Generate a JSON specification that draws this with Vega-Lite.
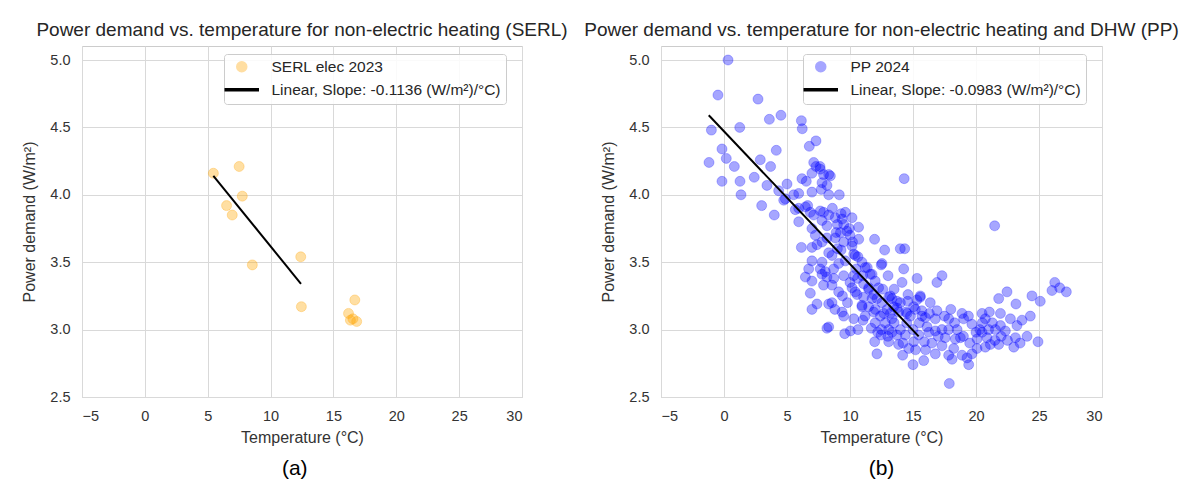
{
  "$schema": "https://vega.github.io/schema/vega-lite/v6.json",
  "background": "white",
  "padding": {"left": 21, "top": 20, "right": 5, "bottom": 5},
  "config": {
    "font": "Liberation Sans",
    "view": {"stroke": "#cccccc", "strokeWidth": 1},
    "axis": {
      "grid": true, "gridColor": "#d9d9d9", "gridWidth": 1, "domain": false, "ticks": false,
      "labelFont": "Liberation Sans", "labelFontSize": 14.5, "labelColor": "#333333",
      "titleFont": "Liberation Sans", "titleFontSize": 16, "titleFontWeight": "normal", "titleColor": "#333333"
    },
    "title": {"font": "Liberation Sans", "fontSize": 19, "fontWeight": "normal", "color": "#262626"},
    "legend": {
      "fillColor": "rgba(255,255,255,0.85)", "strokeColor": "#cccccc", "cornerRadius": 3,
      "padding": 5, "rowPadding": 6, "labelFont": "Liberation Sans", "labelFontSize": 15.5,
      "labelColor": "#262626", "labelOffset": 22, "symbolOffset": 5, "labelLimit": 400, "symbolSize": 100
    }
  },
  "datasets": {
    "serl": [
      {"t": 5.45, "p": 4.16, "s": "SERL elec 2023"}, {"t": 7.5, "p": 4.21, "s": "SERL elec 2023"},
      {"t": 7.75, "p": 3.99, "s": "SERL elec 2023"}, {"t": 6.5, "p": 3.92, "s": "SERL elec 2023"},
      {"t": 6.95, "p": 3.85, "s": "SERL elec 2023"}, {"t": 8.55, "p": 3.48, "s": "SERL elec 2023"},
      {"t": 12.4, "p": 3.54, "s": "SERL elec 2023"}, {"t": 12.45, "p": 3.17, "s": "SERL elec 2023"},
      {"t": 16.7, "p": 3.22, "s": "SERL elec 2023"}, {"t": 16.2, "p": 3.12, "s": "SERL elec 2023"},
      {"t": 16.35, "p": 3.07, "s": "SERL elec 2023"}, {"t": 16.85, "p": 3.06, "s": "SERL elec 2023"},
      {"t": 16.55, "p": 3.08, "s": "SERL elec 2023"}
    ],
    "serlfit": [
      {"t": 5.45, "p": 4.14, "s": "Linear, Slope: -0.1136 (W/m²)/°C)"},
      {"t": 12.42, "p": 3.34, "s": "Linear, Slope: -0.1136 (W/m²)/°C)"}
    ],
    "ppfit": [
      {"t": -1.21, "p": 4.59, "s": "Linear, Slope: -0.0983 (W/m²)/°C)"},
      {"t": 15.45, "p": 2.95, "s": "Linear, Slope: -0.0983 (W/m²)/°C)"}
    ],
    "pp": [
      {"t":0.32,"p":5.0},{"t":-0.48,"p":4.74},{"t":2.7,"p":4.71},{"t":-1.0,"p":4.48},{"t":1.25,"p":4.5},{"t":3.6,"p":4.56},{"t":4.52,"p":4.59},{"t":6.14,"p":4.55},{"t":6.21,"p":4.49},{"t":-0.16,"p":4.34},{"t":0.18,"p":4.27},{"t":-1.19,"p":4.24},{"t":0.82,"p":4.21},{"t":4.15,"p":4.33},{"t":2.88,"p":4.26},{"t":3.7,"p":4.21},{"t":6.77,"p":4.36},{"t":7.3,"p":4.4},{"t":-0.16,"p":4.1},{"t":1.27,"p":4.1},{"t":2.4,"p":4.13},{"t":3.41,"p":4.07},{"t":1.35,"p":4.0},{"t":2.99,"p":3.92},{"t":3.99,"p":3.85},{"t":4.34,"p":4.03},{"t":5.0,"p":4.08},{"t":4.74,"p":3.96},{"t":5.53,"p":4.0},{"t":5.93,"p":4.01},{"t":6.19,"p":4.12},{"t":6.53,"p":4.1},{"t":6.98,"p":4.16},{"t":7.12,"p":4.24},{"t":6.64,"p":3.92},{"t":5.93,"p":3.9},{"t":6.85,"p":3.87},{"t":5.93,"p":3.8},{"t":7.78,"p":4.09},{"t":8.17,"p":4.07},{"t":8.31,"p":4.0},{"t":9.15,"p":4.0},{"t":8.44,"p":4.14},{"t":7.3,"p":4.21},{"t":7.62,"p":4.21},{"t":6.98,"p":4.02},{"t":14.3,"p":4.12},
      {"t":7.64,"p":4.19},{"t":8.31,"p":4.15},{"t":7.9,"p":4.15},{"t":7.72,"p":4.04},{"t":4.87,"p":3.97},{"t":5.66,"p":3.89},{"t":6.46,"p":3.91},{"t":7.12,"p":3.85},{"t":7.64,"p":3.88},{"t":7.9,"p":3.87},{"t":8.31,"p":3.85},{"t":7.78,"p":3.81},{"t":8.17,"p":3.77},{"t":8.83,"p":3.83},{"t":9.37,"p":3.82},{"t":9.63,"p":3.87},{"t":10.16,"p":3.83},{"t":9.95,"p":3.75},{"t":9.76,"p":3.73},{"t":10.68,"p":3.76},{"t":9.24,"p":3.72},{"t":8.83,"p":3.68},{"t":8.17,"p":3.68},{"t":7.25,"p":3.7},{"t":6.98,"p":3.75},{"t":7.38,"p":3.63},{"t":7.78,"p":3.65},{"t":6.14,"p":3.61},{"t":6.98,"p":3.61},{"t":8.31,"p":3.57},{"t":8.57,"p":3.55},{"t":9.29,"p":3.59},{"t":10.16,"p":3.62},{"t":10.69,"p":3.67},{"t":11.95,"p":3.67},{"t":12.75,"p":3.59},{"t":13.99,"p":3.6},{"t":10.42,"p":3.55},{"t":10.95,"p":3.5},{"t":11.21,"p":3.46},{"t":6.98,"p":3.51},{"t":6.72,"p":3.45},{"t":7.64,"p":3.45},{"t":7.78,"p":3.41},{"t":8.17,"p":3.39},{"t":8.7,"p":3.45},{"t":9.1,"p":3.49},{"t":9.63,"p":3.51},{"t":12.48,"p":3.48},{"t":11.61,"p":3.41},{"t":13.02,"p":3.4},{"t":14.26,"p":3.45},{"t":14.13,"p":3.35},{"t":6.46,"p":3.39},{"t":6.98,"p":3.36},{"t":7.9,"p":3.33},{"t":8.57,"p":3.33},{"t":9.1,"p":3.28},{"t":6.85,"p":3.27},{"t":7.38,"p":3.19},{"t":8.57,"p":3.2},{"t":9.37,"p":3.13},{"t":6.98,"p":3.15},{"t":10.16,"p":3.31},{"t":10.42,"p":3.28},{"t":11.08,"p":3.24},{"t":11.48,"p":3.3},{"t":11.75,"p":3.23},{"t":10.95,"p":3.18},{"t":12.01,"p":3.15},{"t":12.54,"p":3.2},{"t":13.2,"p":3.25},{"t":13.73,"p":3.21},{"t":14.58,"p":3.21},{"t":13.47,"p":3.17},{"t":12.68,"p":3.12},{"t":14.44,"p":3.13},
      {"t":7.78,"p":3.5},{"t":8.04,"p":3.43},{"t":8.71,"p":3.38},{"t":8.31,"p":3.19},{"t":9.5,"p":3.1},{"t":8.31,"p":3.02},{"t":8.17,"p":3.01},{"t":9.58,"p":2.97},{"t":10.03,"p":2.99},{"t":10.63,"p":3.0},{"t":11.03,"p":3.07},{"t":11.69,"p":3.01},{"t":11.96,"p":2.91},{"t":12.14,"p":2.82},{"t":13.07,"p":2.91},{"t":12.46,"p":2.96},{"t":14.18,"p":2.81},{"t":15.0,"p":2.74},{"t":15.85,"p":2.77},{"t":14.66,"p":2.86},{"t":13.86,"p":2.89},{"t":12.8,"p":3.05},{"t":13.07,"p":3.0},{"t":13.33,"p":2.98},{"t":13.73,"p":2.96},{"t":14.39,"p":2.96},{"t":15.05,"p":2.91},{"t":15.45,"p":2.96},{"t":15.9,"p":2.91},{"t":16.25,"p":2.98},{"t":15.58,"p":3.24},{"t":15.32,"p":3.38},{"t":12.54,"p":3.49},{"t":10.63,"p":3.54},{"t":10.3,"p":3.56},{"t":11.37,"p":3.46},{"t":11.75,"p":3.41},{"t":10.6,"p":3.38},{"t":10.56,"p":3.26},{"t":10.95,"p":3.17},{"t":11.48,"p":3.17},{"t":12.14,"p":3.23},{"t":12.94,"p":3.15},{"t":13.33,"p":3.23},{"t":13.86,"p":3.13},{"t":14.52,"p":3.12},{"t":15.18,"p":3.15},{"t":15.71,"p":3.1},{"t":16.11,"p":3.02},{"t":9.5,"p":3.4},{"t":10.29,"p":3.4},{"t":11.08,"p":3.34},{"t":11.48,"p":3.31},{"t":11.88,"p":3.26},{"t":11.88,"p":3.13},{"t":12.41,"p":3.1},{"t":13.33,"p":3.08},{"t":13.73,"p":3.16},{"t":12.27,"p":3.31},{"t":13.07,"p":3.24},
      {"t":16.9,"p":3.35},{"t":17.3,"p":3.4},{"t":14.6,"p":3.26},{"t":15.58,"p":3.25},{"t":16.37,"p":3.2},{"t":15.05,"p":3.17},{"t":15.7,"p":3.14},{"t":16.9,"p":3.14},{"t":15.98,"p":3.09},{"t":16.77,"p":3.08},{"t":17.83,"p":3.08},{"t":18.89,"p":3.12},{"t":19.02,"p":3.08},{"t":19.68,"p":3.04},{"t":17.83,"p":3.0},{"t":17.3,"p":3.0},{"t":16.77,"p":2.99},{"t":17.56,"p":2.94},{"t":18.36,"p":2.93},{"t":18.76,"p":2.94},{"t":17.3,"p":2.88},{"t":17.83,"p":2.81},{"t":18.1,"p":2.78},{"t":18.23,"p":2.86},{"t":16.77,"p":2.82},{"t":18.89,"p":2.81},{"t":19.42,"p":2.74},{"t":19.29,"p":2.79},{"t":19.68,"p":2.82},{"t":20.08,"p":2.86},{"t":17.88,"p":2.6},{"t":20.48,"p":3.12},{"t":20.74,"p":3.08},{"t":21.06,"p":3.13},{"t":20.48,"p":2.98},{"t":20.08,"p":2.93},{"t":20.87,"p":2.94},{"t":21.14,"p":2.89},{"t":21.8,"p":2.89},{"t":20.74,"p":2.87},{"t":21.54,"p":3.0},{"t":21.94,"p":3.03},{"t":22.33,"p":2.99},{"t":22.73,"p":3.08},{"t":23.25,"p":3.03},{"t":21.94,"p":3.12},{"t":21.8,"p":3.23},{"t":22.46,"p":3.28},{"t":23.17,"p":3.19},{"t":23.65,"p":3.07},{"t":24.31,"p":3.1},{"t":24.44,"p":3.25},{"t":25.1,"p":3.21},{"t":24.05,"p":2.95},{"t":23.13,"p":2.94},{"t":23.0,"p":2.87},{"t":23.5,"p":2.9},{"t":24.92,"p":2.91},{"t":26.25,"p":3.35},{"t":26.03,"p":3.29},{"t":26.64,"p":3.31},{"t":27.17,"p":3.28},{"t":21.48,"p":3.77},{"t":14.34,"p":3.6},
      {"t":12.0,"p":3.05},{"t":12.5,"p":3.0},{"t":13.5,"p":3.05},{"t":14.0,"p":3.0},{"t":14.5,"p":3.05},{"t":15.0,"p":3.0},{"t":15.5,"p":3.05},{"t":14.8,"p":3.1},{"t":13.0,"p":2.95},{"t":14.2,"p":2.9},{"t":15.2,"p":2.85},{"t":16.0,"p":2.85},{"t":16.5,"p":2.9},{"t":17.0,"p":2.95},{"t":18.5,"p":3.0},{"t":19.0,"p":2.95},{"t":19.5,"p":2.9},{"t":20.3,"p":3.0},{"t":21.0,"p":3.0},{"t":21.3,"p":3.05},{"t":20.5,"p":3.05},{"t":22.0,"p":2.95},{"t":22.5,"p":2.92},{"t":21.5,"p":2.92},{"t":20.0,"p":2.98},{"t":9.0,"p":3.6},{"t":9.5,"p":3.65},{"t":10.5,"p":3.45},{"t":11.0,"p":3.4},{"t":12.0,"p":3.36},{"t":12.6,"p":3.3},{"t":13.5,"p":3.3},{"t":10.0,"p":3.35},{"t":9.8,"p":3.2},{"t":8.8,"p":3.15},{"t":9.4,"p":3.25},{"t":17.5,"p":3.1},{"t":18.0,"p":3.15},{"t":18.3,"p":3.05},{"t":19.4,"p":3.1},{"t":16.3,"p":3.12},{"t":15.3,"p":3.22},{"t":14.0,"p":3.2},{"t":13.2,"p":3.12},{"t":12.2,"p":2.98},{"t":11.2,"p":3.1},{"t":10.3,"p":3.08},{"t":9.0,"p":3.78},{"t":9.5,"p":3.78},{"t":10.0,"p":3.7},{"t":9.3,"p":3.86},{"t":8.6,"p":3.9},{"t":10.2,"p":3.65},{"t":8.9,"p":3.72}
    ]
  },
  "resolve": {"scale": {"color": "independent", "shape": "independent", "opacity": "independent"}, "legend": {"color": "independent", "shape": "independent", "opacity": "independent"}},
  "spacing": 14,
  "hconcat": [
    {
      "title": {"text": "(a)", "orient": "bottom", "anchor": "middle", "fontSize": 21, "color": "#000000", "offset": 12},
      "vconcat": [
        {
          "title": {"text": "Power demand vs. temperature for non-electric heating (SERL)", "offset": 6},
          "width": 440, "height": 351,
          "layer": [
            {
              "data": {"name": "serl"},
              "mark": {"type": "point", "filled": true, "size": 100},
              "encoding": {
                "x": {"field": "t", "type": "quantitative", "scale": {"domain": [-5, 30], "nice": false},
                      "axis": {"title": "Temperature (°C)", "values": [-5, 0, 5, 10, 15, 20, 25, 30], "labelPadding": 12, "titlePadding": 7}},
                "y": {"field": "p", "type": "quantitative", "scale": {"domain": [2.5, 5.104], "nice": false, "zero": false},
                      "axis": {"title": "Power demand (W/m²)", "values": [2.5, 3.0, 3.5, 4.0, 4.5, 5.0], "format": ".1f", "labelPadding": 12, "titlePadding": 12}},
                "color": {"field": "s", "type": "nominal",
                          "scale": {"domain": ["SERL elec 2023", "Linear, Slope: -0.1136 (W/m²)/°C)"], "range": ["#FFA500", "#000000"]},
                          "legend": {"title": null, "orient": "none", "legendX": 142, "legendY": 8}},
                "shape": {"field": "s", "type": "nominal",
                          "scale": {"domain": ["SERL elec 2023", "Linear, Slope: -0.1136 (W/m²)/°C)"], "range": ["circle", "M-3.3,-0.2L3.3,-0.2L3.3,0.2L-3.3,0.2Z"]},
                          "legend": {"title": null, "orient": "none", "legendX": 142, "legendY": 8}},
                "opacity": {"field": "s", "type": "nominal",
                          "scale": {"domain": ["SERL elec 2023", "Linear, Slope: -0.1136 (W/m²)/°C)"], "range": [0.36, 1]},
                          "legend": {"title": null, "orient": "none", "legendX": 142, "legendY": 8}}
              }
            },
            {
              "data": {"name": "serl"},
              "mark": {"type": "point", "filled": false, "size": 100, "color": "#FFA500", "strokeWidth": 1, "opacity": 0.3},
              "encoding": {
                "x": {"field": "t", "type": "quantitative"},
                "y": {"field": "p", "type": "quantitative"}
              }
            },
            {
              "data": {"name": "serlfit"},
              "mark": {"type": "line", "strokeWidth": 2},
              "encoding": {
                "x": {"field": "t", "type": "quantitative"},
                "y": {"field": "p", "type": "quantitative"},
                "color": {"field": "s", "type": "nominal",
                          "legend": {"title": null, "orient": "none", "legendX": 142, "legendY": 8}}
              }
            }
          ]
        }
      ]
    },
    {
      "title": {"text": "(b)", "orient": "bottom", "anchor": "middle", "fontSize": 21, "color": "#000000", "offset": 12},
      "vconcat": [
        {
          "title": {"text": "Power demand vs. temperature for non-electric heating and DHW (PP)", "offset": 6},
          "width": 441, "height": 351,
          "layer": [
            {
              "data": {"name": "pp"},
              "transform": [{"calculate": "'PP 2024'", "as": "s"}],
              "mark": {"type": "point", "filled": true, "size": 100},
              "encoding": {
                "x": {"field": "t", "type": "quantitative", "scale": {"domain": [-5, 30], "nice": false},
                      "axis": {"title": "Temperature (°C)", "values": [-5, 0, 5, 10, 15, 20, 25, 30], "labelPadding": 12, "titlePadding": 7}},
                "y": {"field": "p", "type": "quantitative", "scale": {"domain": [2.5, 5.104], "nice": false, "zero": false},
                      "axis": {"title": "Power demand (W/m²)", "values": [2.5, 3.0, 3.5, 4.0, 4.5, 5.0], "format": ".1f", "labelPadding": 12, "titlePadding": 12}},
                "color": {"field": "s", "type": "nominal",
                          "scale": {"domain": ["PP 2024", "Linear, Slope: -0.0983 (W/m²)/°C)"], "range": ["#0000FF", "#000000"]},
                          "legend": {"title": null, "orient": "none", "legendX": 142, "legendY": 8}},
                "shape": {"field": "s", "type": "nominal",
                          "scale": {"domain": ["PP 2024", "Linear, Slope: -0.0983 (W/m²)/°C)"], "range": ["circle", "M-3.3,-0.2L3.3,-0.2L3.3,0.2L-3.3,0.2Z"]},
                          "legend": {"title": null, "orient": "none", "legendX": 142, "legendY": 8}},
                "opacity": {"field": "s", "type": "nominal",
                          "scale": {"domain": ["PP 2024", "Linear, Slope: -0.0983 (W/m²)/°C)"], "range": [0.35, 1]},
                          "legend": {"title": null, "orient": "none", "legendX": 142, "legendY": 8}}
              }
            },
            {
              "data": {"name": "pp"},
              "mark": {"type": "point", "filled": false, "size": 100, "color": "#0000FF", "strokeWidth": 1, "opacity": 0.25},
              "encoding": {
                "x": {"field": "t", "type": "quantitative"},
                "y": {"field": "p", "type": "quantitative"}
              }
            },
            {
              "data": {"name": "ppfit"},
              "mark": {"type": "line", "strokeWidth": 2},
              "encoding": {
                "x": {"field": "t", "type": "quantitative"},
                "y": {"field": "p", "type": "quantitative"},
                "color": {"field": "s", "type": "nominal",
                          "legend": {"title": null, "orient": "none", "legendX": 142, "legendY": 8}}
              }
            }
          ]
        }
      ]
    }
  ]
}
